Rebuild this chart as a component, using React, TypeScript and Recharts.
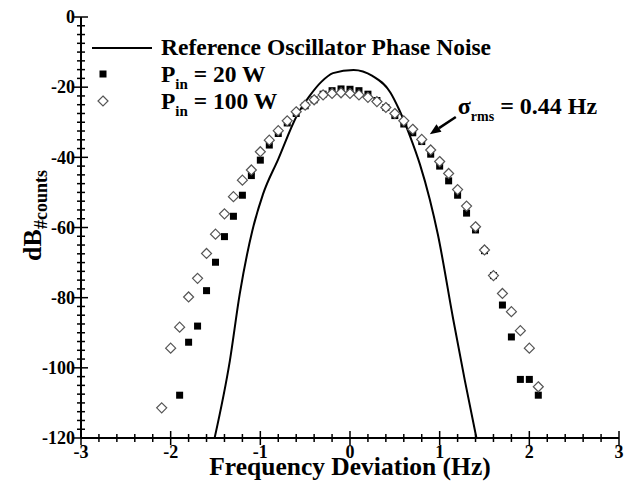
import { ComposedChart, Line, Scatter, XAxis, YAxis, ReferenceLine, Legend, Label } from 'recharts';

// reference oscillator phase noise (solid curve)
const refFreq = [-1.51, -1.34, -1.23, -1.09, -0.97, -0.8, -0.59, -0.45, -0.32, -0.19, 0.04, 0.25, 0.45, 0.55, 0.67, 0.78, 0.89, 0.98, 1.15, 1.28, 1.41];
const refDb = [-120, -98, -79, -61, -50.5, -40.5, -28, -22.5, -18.5, -16, -15.1, -16.8, -21.5, -26.5, -34, -42, -52, -62, -86, -103.5, -120];

// Pin = 20 W (filled squares)
const freq20 = [-1.9, -1.8, -1.7, -1.6, -1.5, -1.4, -1.3, -1.2, -1.1, -1.0, -0.9, -0.8, -0.7, -0.6, -0.5, -0.4, -0.3, -0.2, -0.1, 0.0, 0.1, 0.2, 0.3, 0.4, 0.5, 0.6, 0.7, 0.8, 0.9, 1.0, 1.1, 1.2, 1.3, 1.4, 1.5, 1.6, 1.7, 1.8, 1.9, 2.0, 2.1];
const db20 = [-107.8, -92.7, -88.1, -78.0, -69.9, -62.6, -56.8, -50.8, -45.2, -40.8, -36.5, -33.2, -30.2, -27.5, -25.3, -23.6, -22.0, -21.0, -20.5, -20.6, -21.0, -22.0, -23.8, -25.8, -28.1, -30.5, -33.0, -35.5, -39.1, -42.5, -46.7, -50.8, -55.9, -60.7, -66.6, -73.7, -82.1, -91.2, -103.3, -103.3, -107.8];

// Pin = 100 W (open diamonds)
const freq100 = [-2.1, -2.0, -1.9, -1.8, -1.7, -1.6, -1.5, -1.4, -1.3, -1.2, -1.1, -1.0, -0.9, -0.8, -0.7, -0.6, -0.5, -0.4, -0.3, -0.2, -0.1, 0.0, 0.1, 0.2, 0.3, 0.4, 0.5, 0.6, 0.7, 0.8, 0.9, 1.0, 1.1, 1.2, 1.3, 1.4, 1.5, 1.6, 1.7, 1.8, 1.9, 2.0, 2.1];
const db100 = [-111.4, -94.4, -88.4, -79.8, -74.5, -67.4, -61.9, -56.1, -51.2, -46.5, -43.6, -38.4, -35.1, -32.4, -29.6, -27.0, -25.1, -23.6, -22.2, -21.8, -21.6, -21.8, -22.2, -22.9, -24.1, -25.8, -27.5, -29.6, -32.0, -34.9, -37.9, -41.2, -44.6, -49.2, -53.9, -59.8, -66.4, -73.7, -78.8, -84.0, -89.4, -94.4, -105.4];

const xMajor = [-3, -2, -1, 0, 1, 2, 3];
const yMajor = [0, -20, -40, -60, -80, -100, -120];
const xTicks = Array.from({ length: 31 }, (_, i) => Math.round((-3 + i * 0.2) * 10) / 10);
const yTicks = Array.from({ length: 49 }, (_, i) => -i * 2.5);

const legendNames = ['Reference Oscillator Phase Noise', '20 W', '100 W'];
const sigmaText = '= 0.44 Hz';

const refData = refFreq.map((x, i) => ({ x, y: refDb[i] }));
const data20 = freq20.map((x, i) => ({ x, y: db20[i] }));
const data100 = freq100.map((x, i) => ({ x, y: db100[i] }));

const SERIF = '"Liberation Serif", "Times New Roman", serif';

const isMajorX = (v: number) => xMajor.includes(v);
const isMajorY = (v: number) => yMajor.includes(v);

const BottomTick = (p: any) => {
  const v = p.payload.value;
  const big = isMajorX(v);
  const h = big ? 7 : 4;
  return (
    <g>
      <line x1={p.x} x2={p.x} y1={p.y - h} y2={p.y + h} stroke="#000" strokeWidth={1.5} />
      {big && (
        <text x={p.x} y={p.y + 20} textAnchor="middle" fontFamily={SERIF} fontWeight="bold" fontSize={18} fill="#000">
          {v}
        </text>
      )}
    </g>
  );
};

const TopTick = (p: any) => {
  const h = isMajorX(p.payload.value) ? 7 : 4;
  return <line x1={p.x} x2={p.x} y1={p.y} y2={p.y + h} stroke="#000" strokeWidth={1.5} />;
};

const LeftTick = (p: any) => {
  const v = p.payload.value;
  const big = isMajorY(v);
  const h = big ? 7 : 4;
  return (
    <g>
      <line x1={p.x - h} x2={p.x + h} y1={p.y} y2={p.y} stroke="#000" strokeWidth={1.5} />
      {big && (
        <text x={p.x - 6} y={p.y} dy="0.35em" textAnchor="end" fontFamily={SERIF} fontWeight="bold" fontSize={18} fill="#000">
          {v}
        </text>
      )}
    </g>
  );
};

const RightTick = (p: any) => {
  const h = isMajorY(p.payload.value) ? 7 : 4;
  return <line x1={p.x - h} x2={p.x} y1={p.y} y2={p.y} stroke="#000" strokeWidth={1.5} />;
};

const Square = (p: any) => <rect x={p.cx - 3.5} y={p.cy - 3.5} width={7} height={7} fill="#000" />;

const Diamond = (p: any) => (
  <path
    d={`M${p.cx},${p.cy - 5} L${p.cx + 5},${p.cy} L${p.cx},${p.cy + 5} L${p.cx - 5},${p.cy} Z`}
    fill="#fff"
    stroke="#555"
    strokeWidth={1.2}
  />
);

const SigmaArrow = (p: any) => {
  const { x1, y1, x2, y2 } = p;
  const dx = x2 - x1;
  const dy = y2 - y1;
  const len = Math.sqrt(dx * dx + dy * dy);
  const ux = dx / len;
  const uy = dy / len;
  const bx = x2 - ux * 11;
  const by = y2 - uy * 11;
  return (
    <g>
      <line x1={x1} y1={y1} x2={bx} y2={by} stroke="#000" strokeWidth={2.5} />
      <polygon points={`${x2},${y2} ${bx - uy * 4.5},${by + ux * 4.5} ${bx + uy * 4.5},${by - ux * 4.5}`} fill="#000" />
      <text x={x1 + 2} y={y1 - 3} fontFamily={SERIF} fontWeight="bold" fontSize={24} fill="#000">
        σ<tspan dy={7} fontSize={14}>rms</tspan>
        <tspan dy={-7}> {sigmaText}</tspan>
      </text>
    </g>
  );
};

const renderLegend = () => (
  <svg width={430} height={90} style={{ display: 'block', overflow: 'visible' }}>
    <line x1={4} x2={64} y1={12} y2={12} stroke="#000" strokeWidth={2} />
    <text x={73} y={19} fontFamily={SERIF} fontWeight="bold" fontSize={23.5} fill="#000">
      {legendNames[0]}
    </text>
    <Square cx={15} cy={38} />
    <text x={73} y={46} fontFamily={SERIF} fontWeight="bold" fontSize={23.5} fill="#000">
      P<tspan dy={7} fontSize={15}>in</tspan>
      <tspan dy={-7}> = {legendNames[1]}</tspan>
    </text>
    <Diamond cx={15} cy={65} />
    <text x={73} y={73} fontFamily={SERIF} fontWeight="bold" fontSize={23.5} fill="#000">
      P<tspan dy={7} fontSize={15}>in</tspan>
      <tspan dy={-7}> = {legendNames[2]}</tspan>
    </text>
  </svg>
);

const XTitle = (p: any) => {
  const vb = p.viewBox;
  return (
    <text x={vb.x + vb.width / 2} y={vb.y + 37} textAnchor="middle" fontFamily={SERIF} fontWeight="bold" fontSize={25.5} fill="#000">
      Frequency Deviation (Hz)
    </text>
  );
};

const YTitle = (p: any) => {
  const vb = p.viewBox;
  const x = vb.x + 33;
  const y = vb.y + vb.height / 2 - 12;
  return (
    <text x={x} y={y} transform={`rotate(-90 ${x} ${y})`} textAnchor="middle" fontFamily={SERIF} fontWeight="bold" fontSize={26} fill="#000">
      dB<tspan dy={6} fontSize={18}>#counts</tspan>
    </text>
  );
};

export default function App() {
  return (
    <ComposedChart width={620} height={476} margin={{ top: 9, right: 9, left: 0, bottom: 0 }}>
      <XAxis
        dataKey="x"
        type="number"
        domain={[-3, 3]}
        ticks={xTicks}
        interval={0}
        tickSize={0}
        tickMargin={0}
        tickLine={false}
        tick={<BottomTick />}
        height={46}
        axisLine={{ stroke: '#000', strokeWidth: 2 }}
        allowDataOverflow
      >
        <Label content={<XTitle />} />
      </XAxis>
      <XAxis
        xAxisId="top"
        orientation="top"
        type="number"
        domain={[-3, 3]}
        ticks={xTicks}
        interval={0}
        tickSize={0}
        tickMargin={0}
        tickLine={false}
        tick={<TopTick />}
        height={0}
        axisLine={{ stroke: '#000', strokeWidth: 2 }}
        allowDataOverflow
      />
      <YAxis
        dataKey="y"
        type="number"
        domain={[-120, 0]}
        ticks={yTicks}
        interval={0}
        tickSize={0}
        tickMargin={0}
        tickLine={false}
        tick={<LeftTick />}
        width={73}
        axisLine={{ stroke: '#000', strokeWidth: 2 }}
        allowDataOverflow
      >
        <Label content={<YTitle />} />
      </YAxis>
      <YAxis
        yAxisId="right"
        orientation="right"
        type="number"
        domain={[-120, 0]}
        ticks={yTicks}
        interval={0}
        tickSize={0}
        tickMargin={0}
        tickLine={false}
        tick={<RightTick />}
        width={0}
        axisLine={{ stroke: '#000', strokeWidth: 2 }}
        allowDataOverflow
      />
      <Line
        data={refData}
        dataKey="y"
        type="monotone"
        stroke="#000"
        strokeWidth={2}
        dot={false}
        isAnimationActive={false}
      />
      <Scatter data={data20} dataKey="y" shape={<Square />} isAnimationActive={false} />
      <Scatter data={data100} dataKey="y" shape={<Diamond />} isAnimationActive={false} />
      <ReferenceLine
        segment={[
          { x: 1.18, y: -28.5 },
          { x: 0.89, y: -33.4 },
        ]}
        shape={<SigmaArrow />}
      />
      <Legend
        layout="vertical"
        align="center"
        verticalAlign="middle"
        wrapperStyle={{ left: 80, top: 28, width: 430 }}
        content={renderLegend}
      />
    </ComposedChart>
  );
}
